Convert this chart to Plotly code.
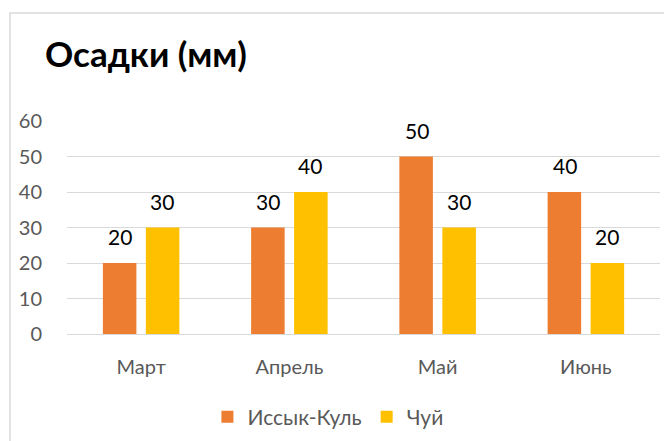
import plotly.graph_objects as go

categories = ["Март", "Апрель", "Май", "Июнь"]
issyk_kul = [20, 30, 50, 40]
chui = [30, 40, 30, 20]
series_names = ["Иссык-Куль", "Чуй"]
colors = ["#ED7D31", "#FFC000"]
y_ticks = [0, 10, 20, 30, 40, 50, 60]

FONT = "Lato, Open Sans, sans-serif"

fig = go.Figure()
for name, vals, col in zip(series_names, [issyk_kul, chui], colors):
    fig.add_trace(go.Bar(x=categories, y=vals, name=name, marker_color=col,
                         marker_line_width=0))

annotations = []
for vals, shift in zip([issyk_kul, chui], [-21, 21]):
    for c, v in zip(categories, vals):
        annotations.append(dict(x=c, y=v, text=str(v), showarrow=False,
                                xanchor="center", yanchor="bottom", yshift=12, xshift=shift,
                                font=dict(size=21, color="#000000", family=FONT)))

fig.update_layout(
    width=664, height=441,
    margin=dict(l=67, r=4, t=121, b=103),
    paper_bgcolor="white", plot_bgcolor="white",
    barmode="group", bargap=0.42, bargroupgap=0.22,
    title=dict(text="<b>Осадки (мм)</b>", x=45/664, xanchor="left", y=1-54.5/441, yanchor="middle",
               font=dict(size=35, color="#000000", family=FONT)),
    font=dict(family=FONT, color="#595959", size=20),
    showlegend=True,
    legend=dict(orientation="h", x=0.44, xanchor="center", y=-0.39, yanchor="middle",
                font=dict(size=21, color="#595959", family=FONT), itemwidth=30,
                traceorder="normal"),
    annotations=annotations,
    shapes=[dict(type="rect", xref="paper", yref="paper",
                 x0=(10-67)/593, x1=1.3, y0=-1.0, y1=(338-11)/217,
                 line=dict(color="#D9D9D9", width=1.5), fillcolor="rgba(0,0,0,0)", layer="below")],
)
fig.update_yaxes(range=[0, 60], tickvals=y_ticks, showgrid=True, gridcolor="#D9D9D9", gridwidth=1.3,
                 zeroline=True, zerolinecolor="#D9D9D9", zerolinewidth=1.3, showline=False,
                 ticklabelstandoff=24, tickfont=dict(size=20, color="#595959"))
fig.update_xaxes(showline=False, showgrid=False, ticks="", ticklabelstandoff=19,
                 tickfont=dict(size=20, color="#595959"))

fig.write_html("out.html", config={"displayModeBar": False},
               post_script="document.body.style.margin='0';")
